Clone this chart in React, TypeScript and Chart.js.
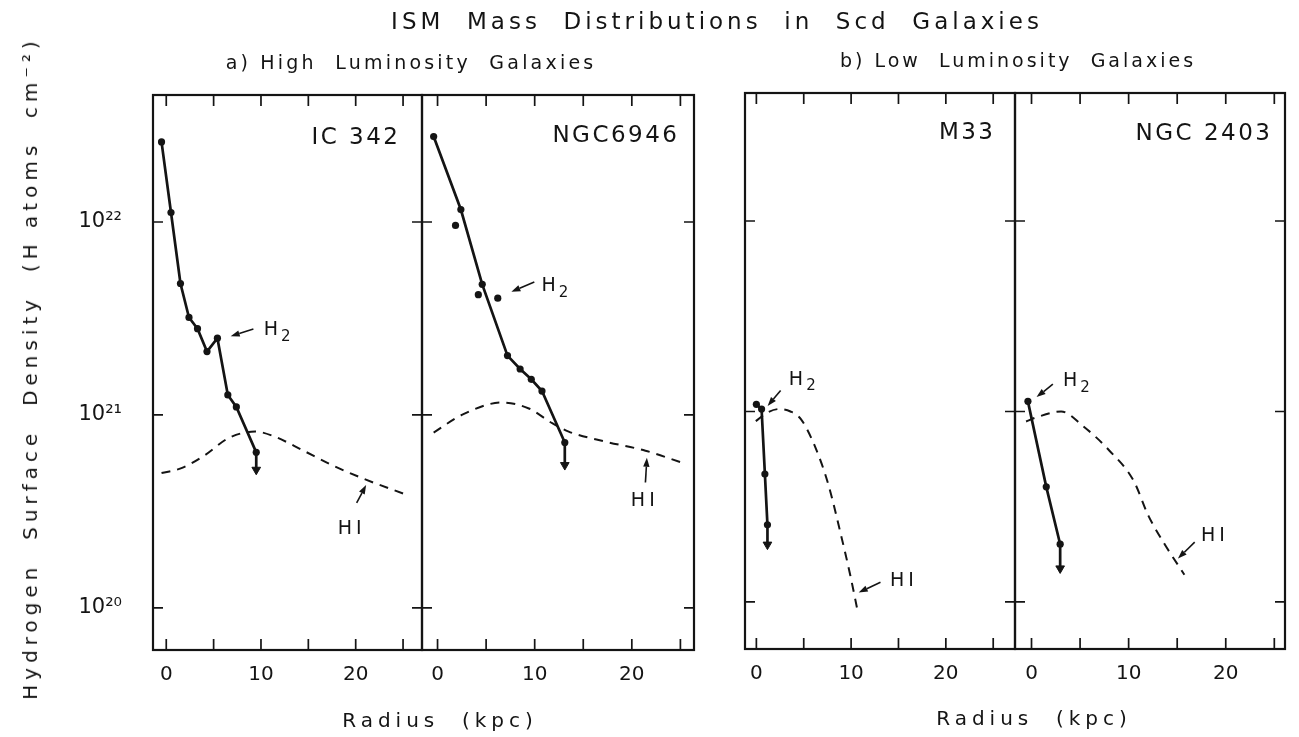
import React, { useEffect, useRef } from 'react';
import { Chart, registerables } from 'chart.js';

Chart.register(...registerables);

const W = 1299;
const H = 737;
const INK = '#141414';
const FONT = '"DejaVu Sans", "Liberation Sans", sans-serif';

// ---- Radius (kpc) against hydrogen surface density (H atoms cm^-2) ----

// IC 342
const IC342_H2_R = [-0.5, 0.5, 1.5, 2.4, 3.3, 4.3, 5.4, 6.5, 7.4, 9.5];
const IC342_H2_N = [2.6e22, 1.12e22, 4.8e21, 3.2e21, 2.8e21, 2.13e21, 2.5e21, 1.27e21, 1.1e21, 6.4e20];
const IC342_H2_LIMIT = 5.2e20;
const IC342_HI_R = [-0.5, 1.6, 4.1, 6.6, 9.4, 11.5, 14.3, 17.5, 20.7, 25.1];
const IC342_HI_N = [5.0e20, 5.3e20, 6.2e20, 7.6e20, 8.2e20, 7.7e20, 6.6e20, 5.5e20, 4.7e20, 3.9e20];

// NGC 6946
const NGC6946_H2_R = [-0.4, 2.4, 4.6, 7.2, 8.5, 9.65, 10.75, 13.1];
const NGC6946_H2_N = [2.77e22, 1.16e22, 4.75e21, 2.03e21, 1.73e21, 1.53e21, 1.33e21, 7.2e20];
const NGC6946_H2_EXTRA_R = [1.85, 4.2, 6.2];
const NGC6946_H2_EXTRA_N = [9.6e21, 4.2e21, 4.03e21];
const NGC6946_H2_LIMIT = 5.5e20;
const NGC6946_HI_R = [-0.4, 2.5, 6.6, 9.4, 11.8, 13.5, 17.3, 21.4, 25.0];
const NGC6946_HI_N = [8.1e20, 1.0e21, 1.16e21, 1.08e21, 9.06e20, 8.2e20, 7.27e20, 6.53e20, 5.7e20];

// M33
const M33_H2_R = [0.0, 0.55, 0.9, 1.17];
const M33_H2_N = [1.09e21, 1.03e21, 4.69e20, 2.54e20];
const M33_H2_LIMIT = 2.0e20;
const M33_HI_R = [-0.06, 1.2, 2.4, 3.6, 4.7, 6.25, 7.6, 8.9, 9.9, 10.7];
const M33_HI_N = [8.9e20, 9.9e20, 1.03e21, 1.0e21, 9.12e20, 6.44e20, 4.13e20, 2.28e20, 1.39e20, 8.9e19];

// NGC 2403
const NGC2403_H2_R = [-0.37, 1.52, 2.95];
const NGC2403_H2_N = [1.13e21, 4.02e20, 2.01e20];
const NGC2403_H2_LIMIT = 1.5e20;
const NGC2403_HI_R = [-0.56, 0.47, 3.05, 5.26, 7.98, 10.52, 12.03, 13.71, 15.74];
const NGC2403_HI_N = [8.86e20, 9.3e20, 1.0e21, 8.42e20, 6.26e20, 4.32e20, 2.84e20, 2.01e20, 1.39e20];

// axis ticks
const X_TICKS = [0, 5, 10, 15, 20, 25];
const X_TICK_LABELS = ['0', '', '10', '', '20', ''];
const Y_TICKS = [1e20, 1e21, 1e22];
const Y_TICK_LABELS = ['10²⁰', '10²¹', '10²²'];

// curve labels with their pointer arrows, in (radius, density)
type Note = { label: 'H2' | 'HI'; at: [number, number]; from: [number, number]; to: [number, number] };
const IC342_NOTES: Note[] = [
  { label: 'H2', at: [10.3, 2.75e21], from: [9.2, 2.79e21], to: [6.8, 2.56e21] },
  { label: 'HI', at: [18.1, 2.56e20], from: [20.1, 3.5e20], to: [21.1, 4.33e20] },
];
const NGC6946_NOTES: Note[] = [
  { label: 'H2', at: [10.7, 4.66e21], from: [9.96, 4.89e21], to: [7.6, 4.35e21] },
  { label: 'HI', at: [19.9, 3.58e20], from: [21.4, 4.47e20], to: [21.55, 6.0e20] },
];
const M33_NOTES: Note[] = [
  { label: 'H2', at: [3.43, 1.47e21], from: [2.56, 1.29e21], to: [1.19, 1.07e21] },
  { label: 'HI', at: [14.1, 1.28e20], from: [13.1, 1.27e20], to: [10.8, 1.12e20] },
];
const NGC2403_NOTES: Note[] = [
  { label: 'H2', at: [3.24, 1.44e21], from: [2.2, 1.39e21], to: [0.52, 1.19e21] },
  { label: 'HI', at: [17.46, 2.22e20], from: [16.8, 2.06e20], to: [15.08, 1.69e20] },
];

interface Panel {
  name: string;
  h2R: number[];
  h2N: number[];
  h2Limit: number;
  extraR?: number[];
  extraN?: number[];
  hiR: number[];
  hiN: number[];
  notes: Note[];
  frame: { left: number; right: number; top: number; bottom: number };
  xMin: number;
  xMax: number;
  yMin: number;
  yMax: number;
  showY: boolean;
  nameInset: [number, number];
}

const PANELS: Panel[] = [
  {
    name: 'IC 342', h2R: IC342_H2_R, h2N: IC342_H2_N, h2Limit: IC342_H2_LIMIT,
    hiR: IC342_HI_R, hiN: IC342_HI_N, notes: IC342_NOTES,
    frame: { left: 153, right: 422, top: 95, bottom: 650 },
    xMin: -1.4, xMax: 27.0, yMin: Math.pow(10, 19.782), yMax: Math.pow(10, 22.658),
    showY: true, nameInset: [24, 43],
  },
  {
    name: 'NGC6946', h2R: NGC6946_H2_R, h2N: NGC6946_H2_N, h2Limit: NGC6946_H2_LIMIT,
    extraR: NGC6946_H2_EXTRA_R, extraN: NGC6946_H2_EXTRA_N,
    hiR: NGC6946_HI_R, hiN: NGC6946_HI_N, notes: NGC6946_NOTES,
    frame: { left: 422, right: 694, top: 95, bottom: 650 },
    xMin: -1.6, xMax: 26.4, yMin: Math.pow(10, 19.782), yMax: Math.pow(10, 22.658),
    showY: false, nameInset: [17, 41],
  },
  {
    name: 'M33', h2R: M33_H2_R, h2N: M33_H2_N, h2Limit: M33_H2_LIMIT,
    hiR: M33_HI_R, hiN: M33_HI_N, notes: M33_NOTES,
    frame: { left: 745, right: 1015, top: 93, bottom: 649 },
    xMin: -1.2, xMax: 27.3, yMin: Math.pow(10, 19.753), yMax: Math.pow(10, 22.672),
    showY: false, nameInset: [22, 40],
  },
  {
    name: 'NGC 2403', h2R: NGC2403_H2_R, h2N: NGC2403_H2_N, h2Limit: NGC2403_H2_LIMIT,
    hiR: NGC2403_HI_R, hiN: NGC2403_HI_N, notes: NGC2403_NOTES,
    frame: { left: 1015, right: 1285, top: 93, bottom: 649 },
    xMin: -1.7, xMax: 26.1, yMin: Math.pow(10, 19.753), yMax: Math.pow(10, 22.672),
    showY: false, nameInset: [15, 41],
  },
];

const X_AXIS_H = 40;
const Y_AXIS_W = 80;

function points(r: number[], n: number[]) {
  return r.map((x, i) => ({ x, y: n[i] }));
}

function drawArrow(ctx: CanvasRenderingContext2D, x1: number, y1: number, x2: number, y2: number) {
  const ang = Math.atan2(y2 - y1, x2 - x1);
  const len = 9;
  const half = 3.2;
  const bx = x2 - len * Math.cos(ang);
  const by = y2 - len * Math.sin(ang);
  ctx.beginPath();
  ctx.moveTo(x1, y1);
  ctx.lineTo(bx, by);
  ctx.lineWidth = 1.6;
  ctx.stroke();
  ctx.beginPath();
  ctx.moveTo(x2, y2);
  ctx.lineTo(bx + half * Math.sin(ang), by - half * Math.cos(ang));
  ctx.lineTo(bx - half * Math.sin(ang), by + half * Math.cos(ang));
  ctx.closePath();
  ctx.fill();
}

// frame with inward ticks, galaxy name and curve labels
function framePlugin(p: Panel) {
  return {
    id: 'panelFrame',
    afterDraw(chart: any) {
      const { ctx, chartArea: a, scales } = chart;
      const xs = scales.x;
      const ys = scales.y;
      ctx.save();
      ctx.strokeStyle = INK;
      ctx.fillStyle = INK;
      ctx.lineWidth = 2.2;
      ctx.strokeRect(a.left, a.top, a.right - a.left, a.bottom - a.top);
      ctx.lineWidth = 1.7;
      ctx.beginPath();
      for (const v of X_TICKS) {
        const x = xs.getPixelForValue(v);
        ctx.moveTo(x, a.bottom);
        ctx.lineTo(x, a.bottom - 11);
        ctx.moveTo(x, a.top);
        ctx.lineTo(x, a.top + 11);
      }
      for (const v of Y_TICKS) {
        const y = ys.getPixelForValue(v);
        ctx.moveTo(a.left, y);
        ctx.lineTo(a.left + 10, y);
        ctx.moveTo(a.right, y);
        ctx.lineTo(a.right - 10, y);
      }
      ctx.stroke();

      // galaxy name
      ctx.font = `23px ${FONT}`;
      ctx.letterSpacing = '2.5px';
      ctx.textAlign = 'right';
      ctx.textBaseline = 'middle';
      ctx.fillText(p.name, a.right - p.nameInset[0] + 2.5, a.top + p.nameInset[1]);

      // curve labels
      for (const n of p.notes) {
        const tx = xs.getPixelForValue(n.at[0]);
        const ty = ys.getPixelForValue(n.at[1]);
        ctx.textAlign = 'left';
        ctx.textBaseline = 'middle';
        if (n.label === 'H2') {
          ctx.letterSpacing = '0px';
          ctx.font = `19px ${FONT}`;
          ctx.fillText('H', tx, ty);
          const w = ctx.measureText('H').width;
          ctx.font = `15px ${FONT}`;
          ctx.fillText('2', tx + w + 3, ty + 7);
        } else {
          ctx.letterSpacing = '4px';
          ctx.font = `19px ${FONT}`;
          ctx.fillText('HI', tx, ty);
        }
        drawArrow(
          ctx,
          xs.getPixelForValue(n.from[0]), ys.getPixelForValue(n.from[1]),
          xs.getPixelForValue(n.to[0]), ys.getPixelForValue(n.to[1]),
        );
      }
      ctx.restore();
    },
  };
}

function makeConfig(p: Panel): any {
  const lastN = p.h2N[p.h2N.length - 1];
  const lastR = p.h2R[p.h2R.length - 1];
  const datasets: any[] = [
    {
      label: 'HI',
      data: points(p.hiR, p.hiN),
      borderColor: INK,
      borderWidth: 2,
      borderDash: [9, 7],
      pointRadius: 0,
      cubicInterpolationMode: 'monotone',
      fill: false,
    },
    {
      label: 'H2',
      data: points(p.h2R, p.h2N),
      borderColor: INK,
      borderWidth: 2.7,
      pointRadius: 3.6,
      pointBackgroundColor: INK,
      pointBorderWidth: 0,
      tension: 0,
      fill: false,
    },
    {
      label: 'H2 upper limit',
      data: [{ x: lastR, y: lastN }, { x: lastR, y: p.h2Limit }],
      borderColor: INK,
      borderWidth: 2.7,
      pointStyle: 'triangle',
      pointRotation: 180,
      pointRadius: [0, 5],
      pointBackgroundColor: INK,
      pointBorderColor: INK,
      pointBorderWidth: 1,
      fill: false,
    },
  ];
  if (p.extraR && p.extraN) {
    datasets.push({
      label: 'H2 (off-axis)',
      data: points(p.extraR, p.extraN),
      showLine: false,
      pointRadius: 3.6,
      pointBackgroundColor: INK,
      pointBorderWidth: 0,
    });
  }

  const f = p.frame;
  return {
    type: 'line',
    data: { datasets },
    options: {
      responsive: false,
      animation: false,
      events: [],
      layout: {
        padding: {
          left: p.showY ? f.left - Y_AXIS_W : f.left,
          right: W - f.right,
          top: f.top,
          bottom: H - f.bottom - X_AXIS_H,
        },
      },
      plugins: { legend: { display: false }, tooltip: { enabled: false }, title: { display: false } },
      scales: {
        x: {
          type: 'linear',
          min: p.xMin,
          max: p.xMax,
          afterBuildTicks: (s: any) => {
            s.ticks = X_TICKS.map((v) => ({ value: v }));
          },
          afterFit: (s: any) => {
            s.height = X_AXIS_H;
          },
          ticks: {
            autoSkip: false,
            maxRotation: 0,
            padding: 13,
            color: INK,
            font: { family: FONT, size: 20 },
            callback: (v: number) => X_TICK_LABELS[X_TICKS.indexOf(v)] ?? '',
          },
          grid: { display: false, drawTicks: false },
          border: { display: false },
        },
        y: {
          type: 'logarithmic',
          display: p.showY,
          min: p.yMin,
          max: p.yMax,
          afterBuildTicks: (s: any) => {
            s.ticks = Y_TICKS.map((v) => ({ value: v }));
          },
          afterFit: (s: any) => {
            if (p.showY) s.width = Y_AXIS_W;
          },
          ticks: {
            autoSkip: false,
            padding: 31,
            color: INK,
            font: { family: FONT, size: 21 },
            callback: (v: number) => Y_TICK_LABELS[Y_TICKS.indexOf(v)] ?? '',
          },
          grid: { display: false, drawTicks: false },
          border: { display: false },
        },
      },
    },
    plugins: [framePlugin(p)],
  };
}

function PanelCanvas({ panel }: { panel: Panel }) {
  const ref = useRef<HTMLCanvasElement | null>(null);
  useEffect(() => {
    if (!ref.current) return;
    const chart = new Chart(ref.current, makeConfig(panel));
    return () => chart.destroy();
  }, [panel]);
  return (
    <canvas
      ref={ref}
      width={W}
      height={H}
      style={{ position: 'absolute', left: 0, top: 0, width: W, height: H }}
    />
  );
}

const textBase: React.CSSProperties = {
  position: 'absolute',
  fontFamily: FONT,
  color: INK,
  whiteSpace: 'pre',
  lineHeight: 1,
  transform: 'translate(-50%, -50%)',
};

export default function App() {
  return (
    <div
      style={{
        position: 'fixed',
        left: 0,
        top: 0,
        width: W,
        height: H,
        background: '#fff',
        overflow: 'hidden',
      }}
    >
      {PANELS.map((p) => (
        <PanelCanvas key={p.name} panel={p} />
      ))}
      <div style={{ ...textBase, left: 717, top: 21, fontSize: 23, letterSpacing: 4 }}>
        {'ISM  Mass  Distributions  in  Scd  Galaxies'}
      </div>
      <div style={{ ...textBase, left: 411, top: 62, fontSize: 19, letterSpacing: 3.2 }}>
        {'a) High  Luminosity  Galaxies'}
      </div>
      <div style={{ ...textBase, left: 1018, top: 60, fontSize: 19, letterSpacing: 3 }}>
        {'b) Low  Luminosity  Galaxies'}
      </div>
      <div
        style={{
          ...textBase,
          left: 30,
          top: 368,
          fontSize: 20,
          letterSpacing: 5,
          transform: 'translate(-50%, -50%) rotate(-90deg)',
        }}
      >
        {'Hydrogen  Surface  Density  (H atoms  cm⁻²)'}
      </div>
      <div style={{ ...textBase, left: 440, top: 720, fontSize: 20, letterSpacing: 5 }}>
        {'Radius  (kpc)'}
      </div>
      <div style={{ ...textBase, left: 1034, top: 718, fontSize: 20, letterSpacing: 5 }}>
        {'Radius  (kpc)'}
      </div>
    </div>
  );
}
